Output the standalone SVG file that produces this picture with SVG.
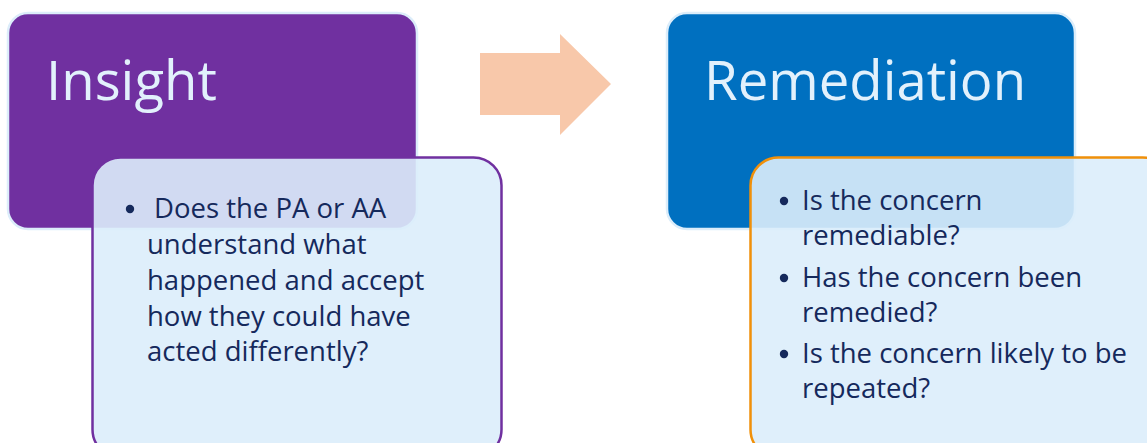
<svg xmlns="http://www.w3.org/2000/svg" width="1147" height="443" viewBox="0 0 1147 443">
<style>
.back{stroke:#dcedfa;stroke-width:2.5}
.front{fill:#dcedfb;fill-opacity:0.9;stroke-width:2.5}
.title{font-family:"Open Sans","Liberation Sans",sans-serif;font-size:54.5px;fill:#e2f1fc}
.body{font-family:"Open Sans","Liberation Sans",sans-serif;font-size:27.5px;fill:#15295c}
.dot{fill:#15295c}
</style>
<rect width="1147" height="443" fill="#ffffff"/>
<g id="insight">
<rect class="back" x="8" y="13" width="409" height="216" rx="20" fill="#7030a0"/>
<text class="title" x="46" y="100">Insight</text>
</g>
<g id="insight-detail">
<rect class="front" x="92.5" y="157.5" width="409" height="300" rx="28" stroke="#7030a0"/>
<circle class="dot" cx="130" cy="209" r="4.2"/>
<text class="body"><tspan x="154" y="218">Does the PA or AA</tspan><tspan x="147" y="254">understand what</tspan><tspan x="147" y="290">happened and accept</tspan><tspan x="147" y="326">how they could have</tspan><tspan x="147" y="361">acted differently?</tspan></text>
</g>
<g id="connectors">
<polygon points="480,53 560,53 560,34 611,84 560,135 560,115 480,115" fill="#f8c8aa"/>
</g>
<g id="remediation">
<rect class="back" x="667" y="13" width="408" height="216" rx="20" fill="#0070c0"/>
<text class="title" x="704" y="100">Remediation</text>
</g>
<g id="remediation-detail">
<rect class="front" x="750.5" y="157.5" width="420" height="300" rx="28" stroke="#f0900a"/>
<circle class="dot" cx="784" cy="201" r="4.2"/>
<circle class="dot" cx="784" cy="278" r="4.2"/>
<circle class="dot" cx="784" cy="354" r="4.2"/>
<text class="body"><tspan x="802" y="210">Is the concern</tspan><tspan x="802" y="245">remediable?</tspan><tspan x="802" y="287">Has the concern been</tspan><tspan x="802" y="322">remedied?</tspan><tspan x="802" y="363">Is the concern likely to be</tspan><tspan x="802" y="398">repeated?</tspan></text>
</g>
</svg>
